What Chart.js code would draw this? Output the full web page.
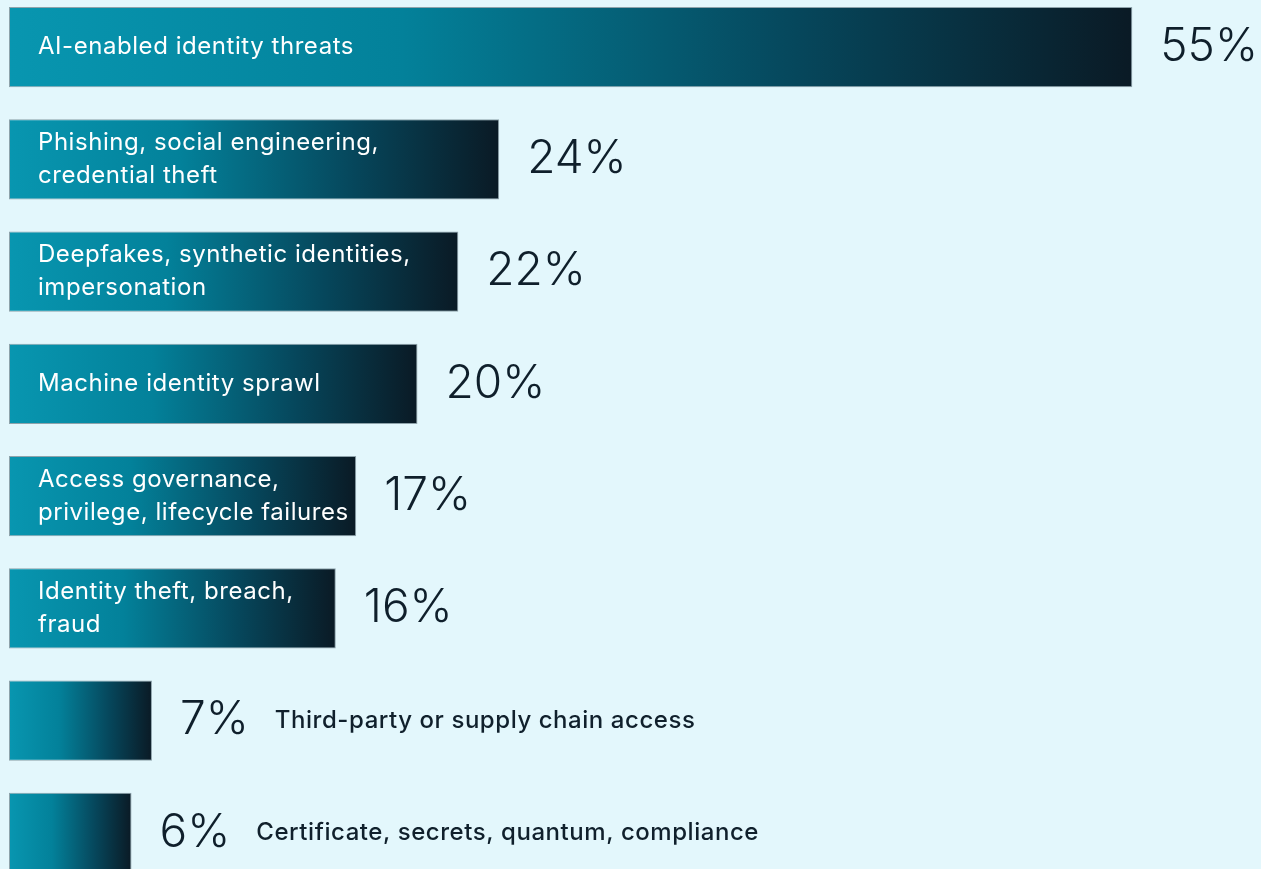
<!DOCTYPE html>
<html>
<head>
<meta charset="utf-8">
<script src="https://cdn.jsdelivr.net/npm/chart.js@4"></script>
<style>
  html, body { margin: 0; padding: 0; background: #e3f7fc; overflow: hidden; }
  #wrap { position: absolute; left: 0; top: -9px; width: 1261px; height: 898px; }
</style>
</head>
<body>
<div id="wrap"><canvas id="threatChart" width="1261" height="898"></canvas></div>
<script>
"use strict";

// identity threat categories, top to bottom
var categories = [
    ['AI-enabled identity threats'],
    ['Phishing, social engineering,', 'credential theft'],
    ['Deepfakes, synthetic identities,', 'impersonation'],
    ['Machine identity sprawl'],
    ['Access governance,', 'privilege, lifecycle failures'],
    ['Identity theft, breach,', 'fraud'],
    ['Third-party or supply chain access'],
    ['Certificate, secrets, quantum, compliance']
];
var shares = [55, 24, 22, 20, 17, 16, 7, 6];
var labelInside = [true, true, true, true, true, true, false, false];

var FONT = 'Inter, "Noto Sans", sans-serif';

function barGradient(context) {
    var chart = context.chart;
    var xs = chart.scales.x;
    if (!xs || !chart.chartArea) return '#0891aa';
    var v = shares[context.dataIndex];
    var x0 = xs.getPixelForValue(0);
    var x1 = xs.getPixelForValue(v);
    var g = chart.ctx.createLinearGradient(x0, 0, x1, 0);
    g.addColorStop(0, '#0896b0');
    g.addColorStop(0.35, '#03819a');
    g.addColorStop(0.7, '#06475c');
    g.addColorStop(1, '#0a1a25');
    return g;
}

// value and category text next to / inside each bar
var barText = {
    id: 'barText',
    afterDatasetsDraw: function (chart) {
        var ctx = chart.ctx;
        var meta = chart.getDatasetMeta(0);
        ctx.save();
        ctx.textBaseline = 'middle';
        meta.data.forEach(function (bar, i) {
            var lines = categories[i];
            var valueText = shares[i] + '%';
            ctx.letterSpacing = '0px';
            ctx.font = '300 46px ' + FONT;
            ctx.fillStyle = '#0f1f2b';
            ctx.textAlign = 'left';
            var vx = bar.x + 28;
            ctx.fillText(valueText, vx, bar.y);
            var w = ctx.measureText(valueText).width;
            ctx.letterSpacing = '0.55px';
            if (labelInside[i]) {
                ctx.font = '400 24px ' + FONT;
                ctx.fillStyle = '#ffffff';
                var lh = 33;
                var y0 = bar.y - (lines.length - 1) * lh / 2;
                lines.forEach(function (ln, k) {
                    ctx.fillText(ln, bar.base + 29, y0 + k * lh);
                });
            } else {
                ctx.font = '500 24px ' + FONT;
                ctx.fillStyle = '#10202c';
                ctx.fillText(lines[0], vx + w + 26, bar.y);
            }
        });
        ctx.restore();
    }
};

var ctx1 = document.getElementById('threatChart').getContext('2d');
var threatChart = new Chart(ctx1, {
    type: 'bar',
    data: {
        labels: categories.map(function (c) { return c.join(' '); }),
        datasets: [{
            data: shares,
            backgroundColor: barGradient,
            borderColor: '#8ea3ab',
            borderWidth: 1,
            borderSkipped: false,
            barPercentage: 0.7127,
            categoryPercentage: 1
        }]
    },
    options: {
        indexAxis: 'y',
        responsive: false,
        devicePixelRatio: 1,
        animation: false,
        layout: { padding: { left: 9, right: 0, top: 0, bottom: 0 } },
        plugins: {
            legend: { display: false },
            tooltip: { enabled: false }
        },
        scales: {
            x: { display: false, min: 0, max: 61.3 },
            y: { display: false }
        }
    },
    plugins: [barText]
});
</script>
</body>
</html>
